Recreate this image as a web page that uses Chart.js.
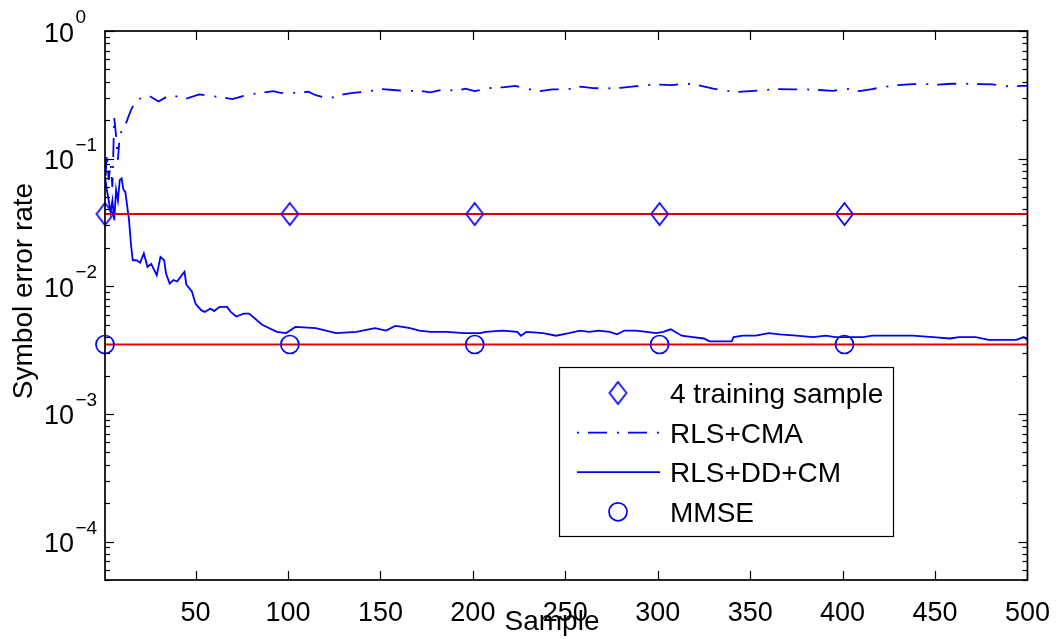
<!DOCTYPE html>
<html>
<head>
<meta charset="utf-8">
<script src="https://cdn.jsdelivr.net/npm/chart.js@4.4.1/dist/chart.umd.min.js"></script>
<style>
  html, body { margin: 0; padding: 0; background: #fff; }
  #wrap { width: 1059px; height: 639px; }
</style>
</head>
<body>
<div id="wrap"><canvas id="chart" width="1059" height="639"></canvas></div>
<script>
const FONT = '"Liberation Sans", Arial, Helvetica, sans-serif';

// marker positions (sample index) and levels
const markSamples = [1, 101, 201, 301, 401];
const trainingLevel = [0.0368, 0.0368, 0.0368, 0.0368, 0.0368];
const mmseLevel = [0.0035, 0.0035, 0.0035, 0.0035, 0.0035];

// red reference lines
const refX = [1, 500];
const trainingRef = [0.0368, 0.0368];
const mmseRef = [0.0035, 0.0035];

// RLS+CMA (dash-dot)
const cmaX = [1, 2, 3, 4, 5, 6, 7, 8, 9, 12, 15, 18, 25, 30, 36, 45, 52, 62, 70, 76,
  83, 92, 96, 103, 111, 115, 122, 130, 135, 142, 151, 157, 163, 171, 177, 184, 191, 196, 201, 209,
  216, 223, 231, 236, 243, 251, 258, 265, 272, 280, 286, 294, 301, 308, 315, 322, 330, 337, 343, 350,
  358, 365, 373, 380, 387, 395, 402, 409, 416, 423, 430, 438, 445, 452, 459, 467, 474, 481, 488, 496, 500];
const cmaY = [0.06, 0.11, 0.068, 0.092, 0.06, 0.21, 0.15, 0.098, 0.155, 0.183, 0.24, 0.29, 0.31, 0.28, 0.315, 0.296, 0.319, 0.305, 0.293, 0.31,
  0.325, 0.338, 0.328, 0.327, 0.334, 0.314, 0.296, 0.319, 0.328, 0.334, 0.351, 0.345, 0.34, 0.34, 0.33, 0.349, 0.34, 0.353, 0.338, 0.357,
  0.362, 0.372, 0.349, 0.338, 0.349, 0.349, 0.366, 0.357, 0.355, 0.359, 0.366, 0.377, 0.38, 0.377, 0.389, 0.375, 0.353, 0.34, 0.333, 0.338,
  0.345, 0.351, 0.349, 0.349, 0.345, 0.34, 0.353, 0.338, 0.351, 0.366, 0.377, 0.384, 0.384, 0.38, 0.386, 0.386, 0.384, 0.382, 0.369, 0.371, 0.372];

// RLS+DD+CM (solid)
const ddX = [1, 2, 3, 4, 5, 6, 7, 8, 9, 10, 11, 12, 14, 15, 16, 18, 20, 22, 24, 26,
  29, 31, 33, 34, 36, 38, 40, 42, 44, 45, 48, 50, 53, 55, 58, 60, 63, 67, 69, 72,
  76, 79, 86, 94, 99, 104, 115, 126, 137, 147, 150, 153, 158, 162, 166, 171, 177, 186, 195, 204,
  207, 216, 224, 226, 229, 238, 245, 252, 258, 263, 268, 274, 278, 282, 288, 294, 299, 303, 307, 313,
  319, 325, 328, 333, 340, 341, 346, 353, 360, 366, 375, 384, 391, 396, 404, 411, 416, 423, 431, 438,
  449, 458, 463, 472, 479, 486, 494, 498, 500];
const ddY = [0.072, 0.057, 0.047, 0.038, 0.047, 0.033, 0.057, 0.047, 0.068, 0.07, 0.057, 0.055, 0.033, 0.0217, 0.016, 0.016, 0.0153, 0.0181, 0.0142, 0.015,
  0.0122, 0.017, 0.016, 0.0126, 0.0105, 0.0112, 0.0109, 0.0119, 0.013, 0.0103, 0.0091, 0.0073, 0.0065, 0.0063, 0.0067, 0.0064, 0.0069, 0.0069, 0.0063, 0.0058,
  0.0061, 0.0061, 0.005, 0.0044, 0.0043, 0.0048, 0.0047, 0.0043, 0.0044, 0.0047, 0.0046, 0.0045, 0.0049, 0.0048, 0.0047, 0.0045, 0.0044, 0.0044, 0.0043, 0.0043,
  0.0044, 0.0045, 0.0044, 0.0041, 0.0044, 0.0043, 0.0041, 0.0043, 0.0045, 0.0044, 0.0045, 0.0044, 0.0042, 0.0045, 0.0045, 0.0044, 0.0043, 0.0044, 0.0046, 0.0041,
  0.004, 0.0039, 0.0037, 0.0037, 0.0037, 0.004, 0.0041, 0.0041, 0.0043, 0.0042, 0.0041, 0.004, 0.0041, 0.004, 0.004, 0.004, 0.0041, 0.0041, 0.0041, 0.0041,
  0.004, 0.0039, 0.004, 0.004, 0.0038, 0.0038, 0.0038, 0.004, 0.0038];

// axes
const xTicks = [50, 100, 150, 200, 250, 300, 350, 400, 450, 500];
const yDecades = [0, -1, -2, -3, -4];
const yMin = 5e-5, yMax = 1;

const pts = (xs, ys) => xs.map((x, i) => ({ x: x, y: ys[i] }));

// matlab style diamond marker (a bit taller than wide)
function diamondMarker() {
  const c = document.createElement('canvas');
  c.width = 21; c.height = 26;
  const g = c.getContext('2d');
  g.strokeStyle = '#0000ff';
  g.lineWidth = 1.7;
  g.beginPath();
  g.moveTo(10.5, 2); g.lineTo(19, 13); g.lineTo(10.5, 24); g.lineTo(2, 13);
  g.closePath();
  g.stroke();
  return c;
}
const diamond = diamondMarker();

const matlabAxes = {
  id: 'matlabAxes',
  afterDraw(chart) {
    const ctx = chart.ctx;
    const a = chart.chartArea;
    const xs = chart.scales.x, ys = chart.scales.y;
    ctx.save();

    // inward ticks
    ctx.strokeStyle = '#000';
    ctx.lineWidth = 1.2;
    const seg = (x1, y1, x2, y2) => { ctx.beginPath(); ctx.moveTo(x1, y1); ctx.lineTo(x2, y2); ctx.stroke(); };
    xTicks.forEach(v => {
      const px = Math.round(xs.getPixelForValue(v)) + 0.5;
      seg(px, a.bottom, px, a.bottom - 9);
      seg(px, a.top, px, a.top + 9);
    });
    const eLo = Math.floor(Math.log10(yMin));
    for (let e = 0; e >= eLo; e--) {
      for (let m = 1; m <= 9; m++) {
        const v = m * Math.pow(10, e);
        if (v < yMin * 0.999 || v > yMax * 1.001) continue;
        const py = Math.round(ys.getPixelForValue(v)) + 0.5;
        const len = m === 1 ? 9 : 5;
        seg(a.left, py, a.left + len, py);
        seg(a.right, py, a.right - len, py);
      }
    }

    // box
    ctx.lineWidth = 1.7;
    ctx.strokeRect(a.left, a.top, a.right - a.left, a.bottom - a.top);

    // y tick labels 10^n
    ctx.fillStyle = '#000';
    ctx.textAlign = 'left';
    ctx.textBaseline = 'alphabetic';
    yDecades.forEach(e => {
      const py = ys.getPixelForValue(Math.pow(10, e));
      ctx.font = '27px ' + FONT;
      ctx.fillText('10', 44, py + 10.5);
      ctx.font = '19px ' + FONT;
      ctx.fillText(e === 0 ? '0' : '\u2212' + (-e), 75.5, py - 8);
    });

    // axis titles
    ctx.font = '28px ' + FONT;
    ctx.textAlign = 'center';
    ctx.fillText('Sample', 552, 630);
    ctx.save();
    ctx.translate(31.5, 291);
    ctx.rotate(-Math.PI / 2);
    ctx.fillText('Symbol error rate', 0, 0);
    ctx.restore();

    // legend
    const lx = 559, ly = 367, lw = 334, lh = 169;
    ctx.fillStyle = '#fff';
    ctx.fillRect(lx, ly, lw, lh);
    ctx.strokeStyle = '#000';
    ctx.lineWidth = 1.2;
    ctx.strokeRect(lx + 0.5, ly + 0.5, lw, lh);
    const ds = chart.data.datasets;
    const rows = [0, 4, 5, 1];
    rows.forEach((di, i) => {
      const d = ds[di];
      const cy = 393 + i * 39.6;
      ctx.strokeStyle = '#0000ff';
      ctx.lineWidth = 1.7;
      if (d.showLine === false) {
        if (d.pointStyle === 'circle') {
          ctx.beginPath(); ctx.arc(618, cy, 9, 0, Math.PI * 2); ctx.stroke();
        } else {
          ctx.drawImage(diamond, 618 - diamond.width / 2, cy - diamond.height / 2);
        }
      } else {
        ctx.setLineDash(d.borderDash || []);
        seg(577, cy, 660, cy);
        ctx.setLineDash([]);
      }
      ctx.fillStyle = '#000';
      ctx.textAlign = 'left';
      ctx.font = '28px ' + FONT;
      ctx.fillText(d.label, 670, cy + 10);
    });
    ctx.restore();
  }
};

const ctx = document.getElementById('chart').getContext('2d');
const chart = new Chart(ctx, {
  type: 'scatter',
  data: {
    datasets: [
      {
        label: '4 training sample',
        data: pts(markSamples, trainingLevel),
        showLine: false,
        pointStyle: diamond,
        pointRadius: 11,
        clip: false
      },
      {
        label: 'MMSE',
        data: pts(markSamples, mmseLevel),
        showLine: false,
        pointStyle: 'circle',
        pointRadius: 9,
        pointBorderColor: '#0000ff',
        pointBackgroundColor: 'rgba(0,0,0,0)',
        pointBorderWidth: 1.7,
        clip: false
      },
      {
        label: 'training level',
        data: pts(refX, trainingRef),
        showLine: true,
        borderColor: '#e00000',
        borderWidth: 2,
        pointRadius: 0
      },
      {
        label: 'MMSE level',
        data: pts(refX, mmseRef),
        showLine: true,
        borderColor: '#e00000',
        borderWidth: 2,
        pointRadius: 0
      },
      {
        label: 'RLS+CMA',
        data: pts(cmaX, cmaY),
        showLine: true,
        borderColor: '#0000ff',
        borderWidth: 1.8,
        borderDash: [2, 9, 19, 10],
        pointRadius: 0,
        tension: 0
      },
      {
        label: 'RLS+DD+CM',
        data: pts(ddX, ddY),
        showLine: true,
        borderColor: '#0000ff',
        borderWidth: 1.8,
        pointRadius: 0,
        tension: 0
      }
    ]
  },
  options: {
    responsive: false,
    animation: false,
    layout: { padding: { left: 0, right: 30, top: 31, bottom: 0 } },
    plugins: {
      legend: { display: false },
      tooltip: { enabled: false }
    },
    scales: {
      x: {
        type: 'linear',
        min: 1,
        max: 500,
        grid: { display: false },
        border: { display: false },
        afterBuildTicks: s => { s.ticks = xTicks.map(v => ({ value: v })); },
        afterFit: s => { s.height = 59; },
        ticks: {
          color: '#000',
          font: { family: FONT, size: 27 },
          padding: 9,
          maxRotation: 0,
          autoSkip: false
        }
      },
      y: {
        type: 'logarithmic',
        min: yMin,
        max: yMax,
        grid: { display: false },
        border: { display: false },
        ticks: { display: false },
        afterFit: s => { s.width = 105; }
      }
    }
  },
  plugins: [matlabAxes]
});
</script>
</body>
</html>
